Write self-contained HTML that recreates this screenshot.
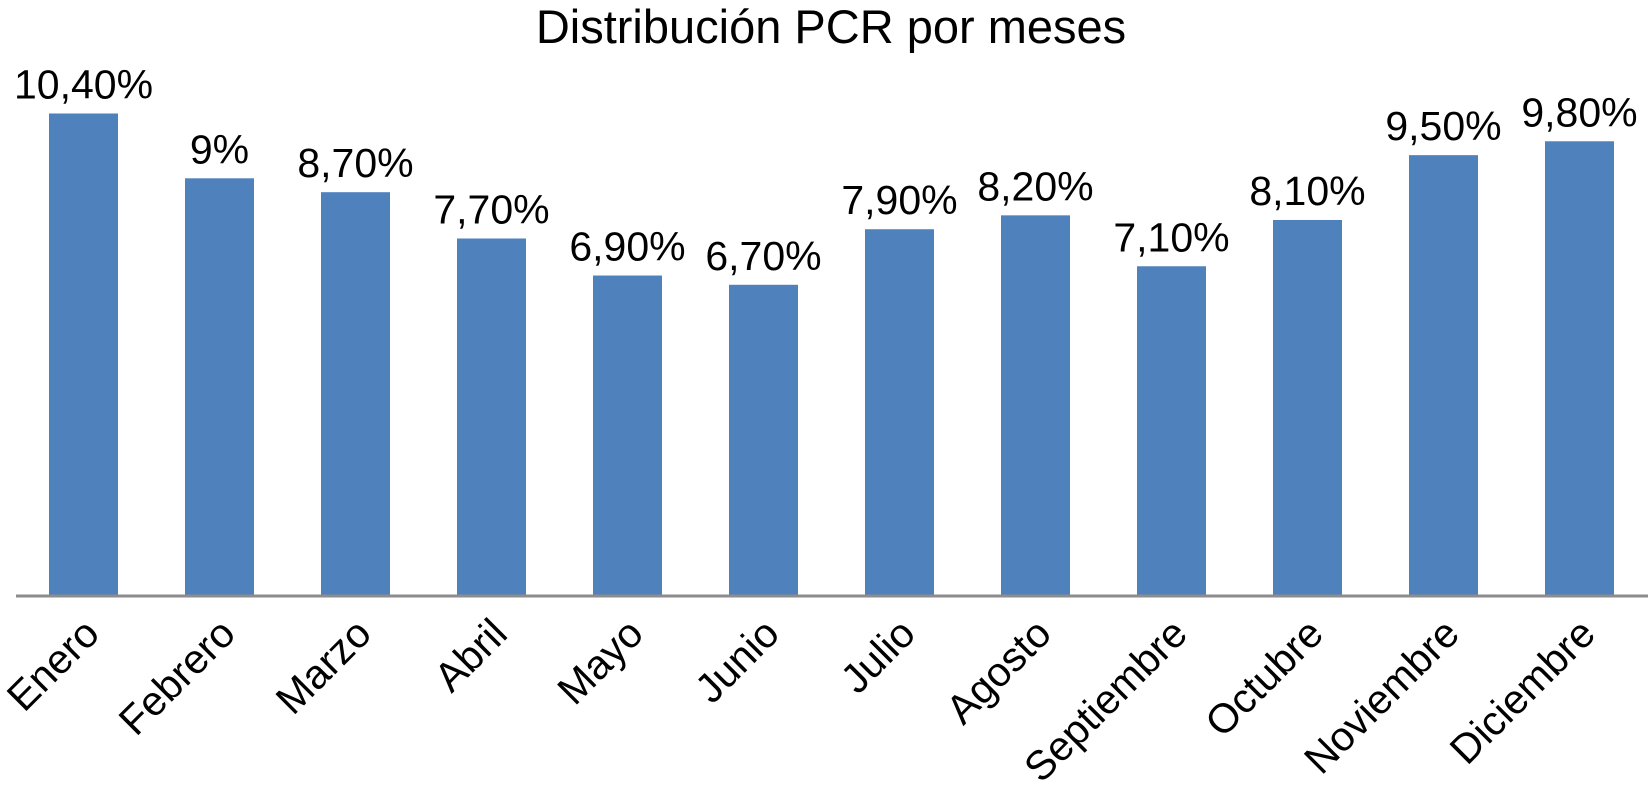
<!DOCTYPE html>
<html><head><meta charset="utf-8"><style>
html,body{margin:0;padding:0;background:#fff;}
svg{display:block;font-family:"Liberation Sans",Arial,sans-serif;}
</style></head><body>
<svg id="chart" width="1648" height="803" viewBox="0 0 1648 803">
<text x="831" y="43" font-size="47" text-anchor="middle" fill="#000">Distribución PCR por meses</text>
<g id="bars"></g>
<line x1="16" y1="596" x2="1648" y2="596" stroke="#8c8c8c" stroke-width="3"/>
</svg>
<script>
const categories=["Enero","Febrero","Marzo","Abril","Mayo","Junio","Julio","Agosto","Septiembre","Octubre","Noviembre","Diciembre"];
const values=[10.4,9,8.7,7.7,6.9,6.7,7.9,8.2,7.1,8.1,9.5,9.8];
const valueLabels=["10,40%","9%","8,70%","7,70%","6,90%","6,70%","7,90%","8,20%","7,10%","8,10%","9,50%","9,80%"];
const NS="http://www.w3.org/2000/svg";
const baseY=595, pxPer=46.3, x0=83.5, step=136, bw=69;
const xScale=i=>x0+i*step;
const yScale=v=>baseY-v*pxPer;
const g=document.getElementById('bars');
categories.forEach((c,i)=>{
  const cx=xScale(i), y=yScale(values[i]);
  const r=document.createElementNS(NS,'rect');
  
  
  r.setAttribute('x',cx-bw/2);r.setAttribute('y',y);
  r.setAttribute('width',bw);r.setAttribute('height',baseY-y);
  r.setAttribute('fill','#4f81bd');
  g.appendChild(r);
  const t=document.createElementNS(NS,'text');
  
  
  t.setAttribute('x',cx);t.setAttribute('y',y-15);
  t.setAttribute('font-size','41');t.setAttribute('text-anchor','middle');
  t.textContent=valueLabels[i];
  g.appendChild(t);
  const l=document.createElementNS(NS,'text');
  
  
  const lx=cx+18, ly=636;
  l.setAttribute('x',lx);l.setAttribute('y',ly);
  l.setAttribute('font-size','41');l.setAttribute('text-anchor','end');
  l.setAttribute('transform','rotate(-45 '+lx+' '+ly+')');
  l.textContent=c;
  g.appendChild(l);
});
</script>
</body></html>
